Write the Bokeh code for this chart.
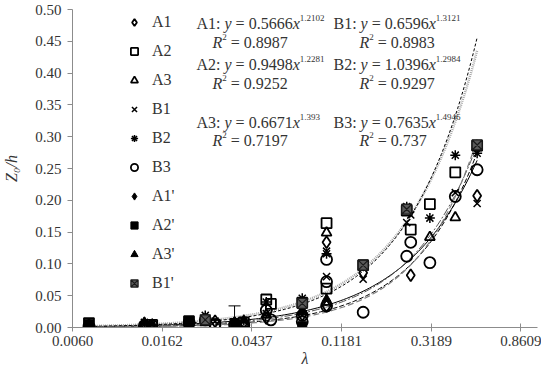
import numpy as np
from bokeh.plotting import figure
from bokeh.models import (Range1d, FixedTicker, PrintfTickFormatter, Legend, LegendItem,
                          Label, ColumnDataSource, Whisker, TeeHead)
from bokeh.embed import file_html
from bokeh.resources import INLINE

# ---------------- data ----------------
A1_X = [0.0072, 0.0133, 0.0218, 0.0291, 0.0400, 0.0513, 0.0764, 0.1000, 0.1000, 0.1500, 0.2540, 0.5300]
A1_Y = [0.004, 0.006, 0.008, 0.010, 0.008, 0.015, 0.020, 0.134, 0.034, 0.086, 0.082, 0.207]

A2_X = [0.0072, 0.0145, 0.0218, 0.0291, 0.0400, 0.0513, 0.0540, 0.0764, 0.1000, 0.1000, 0.1500, 0.2430, 0.2540, 0.3140, 0.4160, 0.5300]
A2_Y = [0.007, 0.004, 0.010, 0.004, 0.008, 0.044, 0.037, 0.039, 0.164, 0.061, 0.098, 0.184, 0.154, 0.194, 0.244, 0.286]

A3_X = [0.0072, 0.0133, 0.0261, 0.0400, 0.0513, 0.0764, 0.1000, 0.1000, 0.3140, 0.4160, 0.5300]
A3_Y = [0.003, 0.004, 0.008, 0.006, 0.020, 0.025, 0.149, 0.040, 0.142, 0.173, 0.283]

B1_X = [0.0072, 0.0145, 0.0218, 0.0291, 0.0400, 0.0513, 0.0764, 0.1000, 0.1000, 0.1500, 0.2430, 0.2540, 0.4160, 0.5300]
B1_Y = [0.004, 0.005, 0.006, 0.010, 0.010, 0.022, 0.034, 0.120, 0.080, 0.076, 0.165, 0.177, 0.212, 0.195]

B2_X = [0.0072, 0.0133, 0.0261, 0.0400, 0.0513, 0.0764, 0.1000, 0.1500, 0.2430, 0.3140, 0.4160, 0.5300]
B2_Y = [0.005, 0.008, 0.019, 0.011, 0.040, 0.046, 0.116, 0.098, 0.190, 0.172, 0.271, 0.274]

B3_X = [0.0072, 0.0133, 0.0145, 0.0218, 0.0261, 0.0291, 0.0361, 0.0400, 0.0513, 0.0540, 0.0764, 0.0764,
        0.1000, 0.1000, 0.1000, 0.1500, 0.2430, 0.2540, 0.3140, 0.4160, 0.5300]
B3_Y = [0.002, 0.003, 0.003, 0.008, 0.012, 0.005, 0.004, 0.004, 0.027, 0.012, 0.019, 0.009,
        0.107, 0.072, 0.034, 0.024, 0.112, 0.134, 0.102, 0.206, 0.248]

A1P_X = [0.0133, 0.0361, 0.0764]
A1P_Y = [0.009, 0.010, 0.025]
A2P_X = [0.0072, 0.0218, 0.0361, 0.0764]
A2P_Y = [0.006, 0.010, 0.007, 0.002]
A3P_X = [0.0145, 0.0400, 0.1000]
A3P_Y = [0.006, 0.012, 0.045]
B1P_X = [0.0261, 0.0764, 0.1500, 0.2430, 0.5300]
B1P_Y = [0.012, 0.038, 0.098, 0.186, 0.287]

ERR_X = [0.0361]
ERR_LOW = [0.010]
ERR_HIGH = [0.034]

# power-law trendlines y = a x^b and R^2
FIT_NAMES = ["A1", "A2", "A3", "B1", "B2", "B3"]
FIT_A = [0.5666, 0.9498, 0.6671, 0.6596, 1.0396, 0.7635]
FIT_B = [1.2102, 1.2281, 1.393, 1.3121, 1.2984, 1.4946]
FIT_R2 = ["0.8987", "0.9252", "0.7197", "0.8983", "0.9297", "0.737"]
FIT_A_TXT = ["0.5666", "0.9498", "0.6671", "0.6596", "1.0396", "0.7635"]
FIT_B_TXT = ["1.2102", "1.2281", "1.393", "1.3121", "1.2984", "1.4946"]

X_TICKS = [0.0060, 0.0162, 0.0437, 0.1181, 0.3189, 0.8609]
Y_TICKS = [0.00, 0.05, 0.10, 0.15, 0.20, 0.25, 0.30, 0.35, 0.40, 0.45, 0.50]
X_MIN, X_MAX = 0.006, 1.034
Y_MIN, Y_MAX = 0.0, 0.5

FONT = "Liberation Serif"
TXT_COLOR = "#333333"

# ---------------- figure ----------------
p = figure(width=541, height=369, output_backend="svg", toolbar_location=None,
           x_axis_type="log", x_range=Range1d(X_MIN, X_MAX), y_range=Range1d(Y_MIN, Y_MAX),
           min_border_left=68, min_border_right=4, min_border_top=9, min_border_bottom=41)
p.outline_line_color = None
p.xgrid.visible = False
p.ygrid.visible = False
p.background_fill_color = "white"

for ax in (p.xaxis[0], p.yaxis[0]):
    ax.axis_line_color = "#8c8c8c"
    ax.major_tick_line_color = "#8c8c8c"
    ax.minor_tick_line_color = None
    ax.major_label_text_font = FONT
    ax.major_label_text_font_size = "15px"
    ax.major_label_text_color = TXT_COLOR
    ax.axis_label_text_font = FONT
    ax.axis_label_text_font_style = "italic"
    ax.axis_label_text_color = TXT_COLOR
    ax.axis_label_text_font_size = "16px"

p.xaxis.ticker = FixedTicker(ticks=X_TICKS)
p.xaxis.formatter = PrintfTickFormatter(format="%.4f")
p.xaxis.major_tick_in = 4
p.xaxis.major_tick_out = 4
p.xaxis.major_label_standoff = 4
p.xaxis.axis_label = "λ"
p.xaxis.axis_label_standoff = 1

p.yaxis.ticker = FixedTicker(ticks=Y_TICKS)
p.yaxis.formatter = PrintfTickFormatter(format="%.2f")
p.yaxis.major_tick_in = 0
p.yaxis.major_tick_out = 5
p.yaxis.major_label_standoff = 6
p.yaxis.axis_label = "Z₀/h"
p.yaxis.axis_label_standoff = 12

# ---------------- trendlines ----------------
series_x = {"A1": A1_X, "A2": A2_X, "A3": A3_X, "B1": B1_X, "B2": B2_X, "B3": B3_X}
line_styles = {
    "A1": dict(line_color="#000000", line_dash="solid", line_width=1),
    "A2": dict(line_color="#a8a8a8", line_dash="1 1", line_width=2.5),
    "A3": dict(line_color="#000000", line_dash="5 2", line_width=1),
    "B1": dict(line_color="#555555", line_dash="8 2 2 2", line_width=1),
    "B2": dict(line_color="#000000", line_dash="3 2", line_width=1),
    "B3": dict(line_color="#808080", line_dash="6 3", line_width=1.2),
}
for name, a, b in zip(FIT_NAMES, FIT_A, FIT_B):
    xs = series_x[name]
    xx = np.geomspace(min(xs), max(xs), 120)
    p.line(xx, a * xx ** b, **line_styles[name])

# ---------------- markers ----------------
MS = 10
LW = 1.8
r_A1 = p.scatter(A1_X, A1_Y, marker="diamond", size=MS + 2, fill_color=None, line_color="black", line_width=LW)
r_A2 = p.scatter(A2_X, A2_Y, marker="square", size=MS, fill_color=None, line_color="black", line_width=LW)
r_A3 = p.scatter(A3_X, A3_Y, marker="triangle", size=MS, fill_color=None, line_color="black", line_width=LW)
r_B1 = p.scatter(B1_X, B1_Y, marker="x", size=MS, line_color="black", line_width=1.5)
r_B2 = p.scatter(B2_X, B2_Y, marker="asterisk", size=MS, line_color="black", line_width=1.5)
r_B3 = p.scatter(B3_X, B3_Y, marker="circle", size=MS + 1, fill_color=None, line_color="black", line_width=LW)
r_A1P = p.scatter(A1P_X, A1P_Y, marker="diamond", size=MS, fill_color="black", line_color="black")
r_A2P = p.scatter(A2P_X, A2P_Y, marker="square", size=MS - 1, fill_color="black", line_color="black")
r_A3P = p.scatter(A3P_X, A3P_Y, marker="triangle", size=MS - 1, fill_color="black", line_color="black")
r_B1P = p.scatter(B1P_X, B1P_Y, marker="square_x", size=MS, fill_color="#5a5a5a", line_color="#1a1a1a", line_width=1.2)

err_src = ColumnDataSource(dict(x=ERR_X, lower=ERR_LOW, upper=ERR_HIGH))
p.add_layout(Whisker(source=err_src, base="x", lower="lower", upper="upper", dimension="height",
                     line_color="black", line_width=1,
                     upper_head=TeeHead(size=12, line_color="black", line_width=1), lower_head=None))

# ---------------- legend ----------------
items = [LegendItem(label=l, renderers=[r]) for l, r in [
    ("A1", r_A1), ("A2", r_A2), ("A3", r_A3), ("B1", r_B1), ("B2", r_B2), ("B3", r_B3),
    ("A1'", r_A1P), ("A2'", r_A2P), ("A3'", r_A3P), ("B1'", r_B1P)]]
legend = Legend(items=items, location=(52, 35), orientation="vertical",
                glyph_width=20, glyph_height=18, label_height=18, spacing=11,
                label_standoff=8, padding=0, margin=0,
                border_line_color=None, background_fill_alpha=0,
                label_text_font=FONT, label_text_font_size="16px", label_text_color=TXT_COLOR)
p.add_layout(legend, "center")

# ---------------- equation labels ----------------
W_ROMAN = {"A": .722, "B": .667, ":": .278, " ": .25, "=": .564, ".": .25}
W_ITALIC = {"y": .444, "x": .444, "R": .611}


def text_w(s, size, italic):
    tbl = W_ITALIC if italic else W_ROMAN
    return sum(tbl.get(c, 0.5) for c in s) * size


EQ_SIZE = 16
SUP_SIZE = 9


def put(segments, x0, y0):
    x = x0
    for txt, kind in segments:
        it = kind == "it"
        size = SUP_SIZE if kind == "sup" else EQ_SIZE
        lead = len(txt) - len(txt.lstrip(" "))
        x += lead * W_ROMAN[" "] * size
        body = txt.strip(" ")
        trail = len(txt) - lead - len(body)
        p.add_layout(Label(x=x, y=y0 + (6 if kind == "sup" else 0), x_units="screen", y_units="screen",
                           text=body, text_font=FONT, text_font_size=f"{size}px", text_color=TXT_COLOR,
                           text_font_style="italic" if it else "normal",
                           text_baseline="middle", text_align="left"))
        x += text_w(body, size, it) + trail * W_ROMAN[" "] * size


# frame-relative positions (x from left of frame, y up from bottom of frame)
COL_EQ_X = [124, 261]
COL_R_X = [140, 287]
ROW_EQ_Y = [304, 263, 205]
ROW_R_Y = [285, 244, 187]
for i, name in enumerate(FIT_NAMES):
    col = 0 if name.startswith("A") else 1
    row = int(name[1]) - 1
    put([(name + ": ", "rm"), ("y", "it"), (" = " + FIT_A_TXT[i], "rm"), ("x", "it"), (FIT_B_TXT[i], "sup")],
        COL_EQ_X[col], ROW_EQ_Y[row])
    put([("R", "it"), ("2", "sup"), (" = " + FIT_R2[i], "rm")], COL_R_X[col], ROW_R_Y[row])

open("out.html", "w").write(file_html(p, INLINE))
